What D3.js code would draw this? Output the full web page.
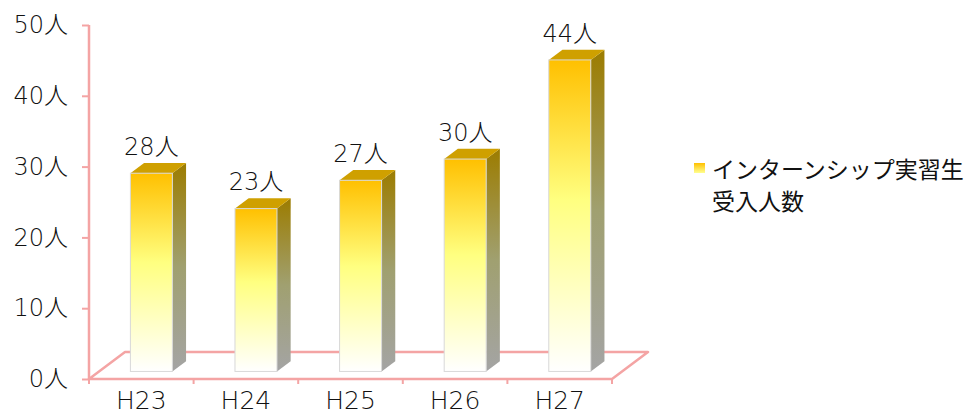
<!DOCTYPE html>
<html>
<head>
<meta charset="utf-8">
<script src="https://cdn.jsdelivr.net/npm/d3@7"></script>
<style>
  html, body { margin: 0; padding: 0; background: #fff; }
  text { font-family: "DejaVu Sans", "Noto Sans CJK JP", sans-serif; font-weight: 300; fill: #111; }
</style>
</head>
<body>
<script>
var categories = ["H23", "H24", "H25", "H26", "H27"];
var values = [28, 23, 27, 30, 44];
var yTicks = [0, 10, 20, 30, 40, 50];
var seriesName = ["インターンシップ実習生", "受入人数"];

var width = 974, height = 414;
var left = 89, right = 612, floorY = 379, topY = 25;
var depth = [36, -27];      // floor depth vector
var f0 = 0.28, f1 = 0.66;   // bar front / back position in depth
var barW = 42;
var font = '"DejaVu Sans", "Noto Sans CJK JP", sans-serif';

var svg = d3.select("body").append("svg")
    .attr("width", width)
    .attr("height", height);

var defs = svg.append("defs");
var gFront = defs.append("linearGradient").attr("id", "front")
    .attr("x1", 0).attr("y1", 0).attr("x2", 0).attr("y2", 1);
gFront.append("stop").attr("offset", "0%").attr("stop-color", "#FFC000");
gFront.append("stop").attr("offset", "45%").attr("stop-color", "#FFFF80");
gFront.append("stop").attr("offset", "100%").attr("stop-color", "#FFFFFF");

var gSide = defs.append("linearGradient").attr("id", "side")
    .attr("x1", 0).attr("y1", 0).attr("x2", 0).attr("y2", 1);
gSide.append("stop").attr("offset", "0%").attr("stop-color", "#9C7C00");
gSide.append("stop").attr("offset", "50%").attr("stop-color", "#A0A070");
gSide.append("stop").attr("offset", "100%").attr("stop-color", "#A4A4A4");

var gLeg = defs.append("linearGradient").attr("id", "leg")
    .attr("x1", 0).attr("y1", 0).attr("x2", 0).attr("y2", 1);
gLeg.append("stop").attr("offset", "0%").attr("stop-color", "#FFC000");
gLeg.append("stop").attr("offset", "100%").attr("stop-color", "#FFFF90");

var x = d3.scaleBand().domain(categories).range([left, right]);
var y = d3.scaleLinear().domain([0, 50]).range([floorY, topY]);

var pink = "#F4A4A4";

// floor
var floor = [[left, floorY], [right, floorY],
    [right + depth[0], floorY + depth[1]], [left + depth[0], floorY + depth[1]]];
svg.append("polygon")
    .attr("points", floor.map(function(p) { return p.join(","); }).join(" "))
    .attr("fill", "none")
    .attr("stroke", pink)
    .attr("stroke-width", 2.5)
    .attr("stroke-linejoin", "round");

// x ticks on band edges
var edges = categories.map(function(c) { return x(c); }).concat([right]);
svg.selectAll(".xt").data(edges).enter().append("line")
    .attr("x1", function(d) { return d; }).attr("x2", function(d) { return d; })
    .attr("y1", floorY).attr("y2", floorY + 5)
    .attr("stroke", pink).attr("stroke-width", 2);

// y axis
var yAxis = svg.append("g")
    .attr("transform", "translate(" + left + ",0)")
    .call(d3.axisLeft(y).tickValues(yTicks).tickSize(7).tickPadding(14)
        .tickFormat(function(d) { return d + "人"; }));
yAxis.select(".domain").attr("stroke", pink).attr("stroke-width", 2.5)
    .attr("d", "M0," + topY + "V" + floorY);
yAxis.selectAll(".tick line").attr("stroke", pink).attr("stroke-width", 2);
yAxis.selectAll(".tick text")
    .style("font-size", "24px")
    .style("font-family", font)
    .attr("fill", "#111");

// x labels
svg.append("g")
    .attr("transform", "translate(0," + floorY + ")")
    .call(d3.axisBottom(x).tickSize(0).tickPadding(12))
    .call(function(g) {
        g.select(".domain").remove();
        g.selectAll("text").style("font-size", "25px")
            .style("font-family", font)
            .attr("fill", "#111");
    });

// bars
var ox = f0 * depth[0], oy = f0 * depth[1];
var bx = (f1 - f0) * depth[0], by = (f1 - f0) * depth[1];
var bars = svg.selectAll(".bar").data(values).enter().append("g");

bars.each(function(v, i) {
    var g = d3.select(this);
    var cx = x(categories[i]) + x.bandwidth() / 2 + ox;
    var x0 = cx - barW / 2, x1 = cx + barW / 2;
    var yb = y(0) + oy, yt = y(v) + oy;
    g.append("polygon")
        .attr("points", [[x1, yb], [x1 + bx, yb + by], [x1 + bx, yt + by], [x1, yt]].join(" "))
        .attr("fill", "url(#side)");
    g.append("polygon")
        .attr("points", [[x0, yt], [x1, yt], [x1 + bx, yt + by], [x0 + bx, yt + by]].join(" "))
        .attr("fill", "#CFA000");
    g.append("rect")
        .attr("x", x0).attr("y", yt)
        .attr("width", barW).attr("height", yb - yt)
        .attr("fill", "url(#front)")
        .attr("stroke", "#D8D8D8").attr("stroke-width", 1);
    g.append("text")
        .attr("x", cx)
        .attr("y", yt + by - 8)
        .attr("text-anchor", "middle")
        .style("font-size", "24px")
        .text(v + "人");
});

// legend
svg.append("rect")
    .attr("x", 694).attr("y", 163).attr("width", 11).attr("height", 10)
    .attr("fill", "url(#leg)");
svg.selectAll(".leg").data(seriesName).enter().append("text")
    .attr("x", 712)
    .attr("y", function(d, i) { return 178 + i * 32; })
    .style("font-size", "23px")
    .style("font-weight", 400)
    .style("font-family", '"Noto Sans CJK JP", sans-serif')
    .text(function(d) { return d; });
</script>
</body>
</html>
